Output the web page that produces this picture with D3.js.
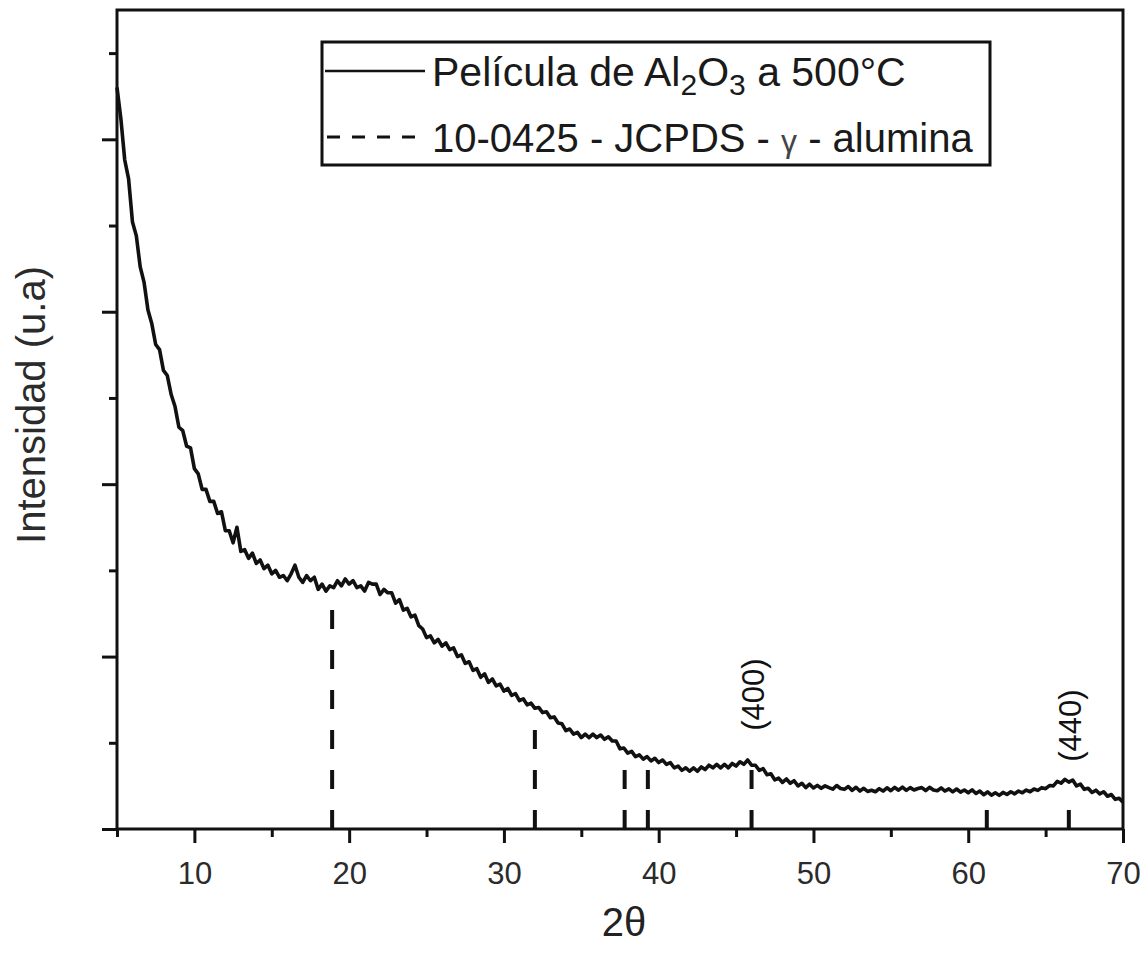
<!DOCTYPE html>
<html>
<head>
<meta charset="utf-8">
<script src="https://cdn.jsdelivr.net/npm/d3@7"></script>
<style>
  body { margin: 0; background: #fff; }
  text { font-family: "Liberation Sans", Arial, sans-serif; }
</style>
</head>
<body>
<svg id="chart" width="1148" height="955"></svg>
<script>
// XRD scan, 2θ from 5° to 70° (read every 0.25°)
const scanStart = 5;
const scanStep = 0.25;
const intensity = [
  430, 412, 388, 377,   // 5
  352, 344, 326, 317,   // 6
  301, 293, 281, 278,   // 7
  266, 263, 252, 245,   // 8
  233, 231, 222, 221,   // 9
  209, 206, 197, 197,   // 10
  190, 190, 183, 184,   // 11
  173, 173, 166, 175,   // 12
  161, 162, 157, 160,   // 13
  154, 156, 151, 153,   // 14
  148, 150, 146, 147,   // 15
  144, 148, 153, 146,   // 16
  143, 147, 144, 146,   // 17
  139, 142, 138, 141,   // 18
  140, 144, 141, 145,   // 19
  142, 144, 140, 141,   // 20
  138, 143, 142, 142,   // 21
  136, 139, 137, 137,   // 22
  131, 133, 127, 128,   // 23
  123, 124, 118, 116,   // 24
  111, 112, 108, 110,   // 25
  106, 108, 104, 105,   // 26
  100, 101, 96, 97,     // 27
  92, 93, 88, 90,       // 28
  85, 87, 83, 84,       // 29
  80, 81.5, 77.5, 78.5, // 30
  74.5, 75.5, 72, 73,   // 31
  70, 70.5, 67.5, 68,   // 32
  64.5, 65, 61.5, 61,   // 33
  57, 58, 55, 56,       // 34
  53, 55, 53, 55,       // 35
  53, 54.5, 52, 53.5,   // 36
  51, 51, 46.5, 47,     // 37
  44, 45, 42, 43,       // 38
  40.5, 42, 39.5, 41,   // 39
  38.5, 40, 37.5, 38.5, // 40
  35.5, 36.5, 34, 35.5, // 41
  33.5, 35.5, 33.5, 36, // 42
  34.5, 37, 35.5, 37.5, // 43
  35.5, 37.5, 35.5, 38, // 44
  36.5, 39, 37.5, 40,   // 45
  37, 37, 34, 35,       // 46
  31.5, 32, 28.5, 29.5, // 47
  27, 29, 26.5, 28,     // 48
  25, 26.5, 24, 26,     // 49
  23.8, 25.3, 23.6, 25.0, // 50
  24.0, 23.1, 25.2, 23.5, // 51
  23.0, 24.6, 22.4, 24.2, // 52
  22.0, 23.6, 21.8, 22.5, // 53
  21.6, 23.4, 22.0, 23.9, // 54
  22.2, 24.1, 22.5, 24.3, // 55
  22.4, 24.0, 22.6, 23.5, // 56
  24.0, 22.3, 24.2, 22.6, // 57
  22.2, 23.8, 22.0, 23.3, // 58
  21.5, 23.2, 21.4, 22.6, // 59
  21.0, 22.7, 20.6, 22.0, // 60
  19.9, 21.5, 19.6, 21.0, // 61
  19.5, 21.2, 20.0, 21.6, // 62
  20.4, 22.0, 21.0, 22.6, // 63
  21.6, 23.2, 22.4, 24.0, // 64
  23.4, 25.2, 25.0, 27.6, // 65
  26.6, 28.8, 27.2, 28.4, // 66
  25.0, 26.0, 23.0, 23.6, // 67
  21.2, 22.5, 20.4, 21.6, // 68
  19.0, 20.0, 17.2, 17.8, // 69
  15.5                    // 70
];

// JCPDS 10-0425 γ-alumina reference lines
const refAngles = [18.9, 32.0, 37.8, 39.3, 46.0, 61.2, 66.5];
const refHeights = [131, 62, 39, 39, 36, 13, 15];

// indexed reflections
const hklLabels = ["(400)", "(440)"];
const hklAngles = [46.0, 66.5];
const hklLevels = [78, 60];

const xMajor = [10, 20, 30, 40, 50, 60, 70];
const xMinor = [5, 15, 25, 35, 45, 55, 65];
const yMajor = [0, 100, 200, 300, 400];
const yMinor = [50, 150, 250, 350, 450];

const svg = d3.select("#chart"),
  margin = { top: 10, right: 25, bottom: 126, left: 117 },
  width = +svg.attr("width") - margin.left - margin.right,
  height = +svg.attr("height") - margin.top - margin.bottom;

const g = svg.append("g")
  .attr("transform", `translate(${margin.left},${margin.top})`);

const x = d3.scaleLinear().domain([5, 70]).range([0, width]);
const y = d3.scaleLinear().domain([0, 475]).range([height, 0]);

const series = intensity.map((v, i) => ({ t: scanStart + i * scanStep, v }));

// reference lines (dashed, drawn from the baseline up)
g.selectAll(".ref")
  .data(refAngles)
  .enter()
  .append("line")
  .attr("class", "ref")
  .attr("x1", (d) => x(d))
  .attr("x2", (d) => x(d))
  .attr("y1", y(0))
  .attr("y2", (d, i) => y(refHeights[i]))
  .attr("stroke", "#111")
  .attr("stroke-width", 4)
  .attr("stroke-dasharray", "19,21");

// measured pattern
g.append("path")
  .datum(series)
  .attr("fill", "none")
  .attr("stroke", "#111")
  .attr("stroke-width", 3.6)
  .attr("stroke-linejoin", "round")
  .attr("d", d3.line().x((d) => x(d.t)).y((d) => y(d.v)));

// axes
function styleAxis(sel) {
  sel.select(".domain").remove();
  sel.selectAll(".tick line").attr("stroke", "#111").attr("stroke-width", 3);
}

g.append("g")
  .attr("transform", `translate(0,${height})`)
  .call(d3.axisBottom(x).tickValues(xMinor).tickSize(8).tickFormat(""))
  .call(styleAxis);

g.append("g")
  .attr("transform", `translate(0,${height})`)
  .call(d3.axisBottom(x).tickValues(xMajor).tickSize(14).tickPadding(19).tickFormat(d3.format("d")))
  .call(styleAxis)
  .call((s) => s.selectAll("text")
    .attr("font-size", "31px")
    .attr("fill", "#2b2b2b")
    .attr("font-family", "Liberation Sans, Arial, sans-serif"));

g.append("g")
  .call(d3.axisLeft(y).tickValues(yMinor).tickSize(8).tickFormat(""))
  .call(styleAxis);

g.append("g")
  .call(d3.axisLeft(y).tickValues(yMajor).tickSize(15).tickFormat(""))
  .call(styleAxis);

// frame
g.append("rect")
  .attr("x", 0)
  .attr("y", 0)
  .attr("width", width)
  .attr("height", height)
  .attr("fill", "none")
  .attr("stroke", "#111")
  .attr("stroke-width", 3);

// hkl annotations
hklLabels.forEach((lab, i) => {
  g.append("text")
    .attr("transform", `translate(${x(hklAngles[i]) + 2},${y(hklLevels[i])}) rotate(-90)`)
    .attr("text-anchor", "middle")
    .attr("dominant-baseline", "central")
    .attr("font-family", "Lato, 'Open Sans', sans-serif")
    .attr("font-size", "31px")
    .attr("fill", "#111")
    .text(lab);
});

// axis titles
svg.append("text")
  .attr("transform", "translate(45,405) rotate(-90)")
  .attr("text-anchor", "middle")
  .attr("font-size", "40px")
  .attr("fill", "#2b2b2b")
  .text("Intensidad (u.a)");

svg.append("text")
  .attr("x", 624)
  .attr("y", 936)
  .attr("text-anchor", "middle")
  .attr("font-size", "40px")
  .attr("fill", "#222")
  .text("2θ");

// legend
const legend = svg.append("g");
legend.append("rect")
  .attr("x", 322)
  .attr("y", 42)
  .attr("width", 668)
  .attr("height", 123)
  .attr("fill", "#fff")
  .attr("stroke", "#111")
  .attr("stroke-width", 3);

legend.append("line")
  .attr("x1", 325).attr("x2", 425)
  .attr("y1", 71).attr("y2", 71)
  .attr("stroke", "#111")
  .attr("stroke-width", 2.5);

legend.append("line")
  .attr("x1", 327).attr("x2", 425)
  .attr("y1", 137).attr("y2", 137)
  .attr("stroke", "#111")
  .attr("stroke-width", 3)
  .attr("stroke-dasharray", "13,12");

const t1 = legend.append("text")
  .attr("x", 432)
  .attr("y", 86)
  .attr("font-size", "41px")
  .attr("fill", "#1a1a1a");
t1.append("tspan").text("Película de Al");
t1.append("tspan").attr("font-size", "30px").attr("dy", 9).text("2");
t1.append("tspan").attr("dy", -9).text("O");
t1.append("tspan").attr("font-size", "30px").attr("dy", 9).text("3");
t1.append("tspan").attr("dy", -9).text(" a 500°C");

const t2 = legend.append("text")
  .attr("x", 432)
  .attr("y", 152)
  .attr("font-size", "40px")
  .attr("fill", "#1a1a1a");
t2.append("tspan").text("10-0425 - JCPDS - ");
t2.append("tspan").attr("font-size", "32px").attr("fill", "#444").text("γ");
t2.append("tspan").text(" - alumina");
</script>
</body>
</html>
